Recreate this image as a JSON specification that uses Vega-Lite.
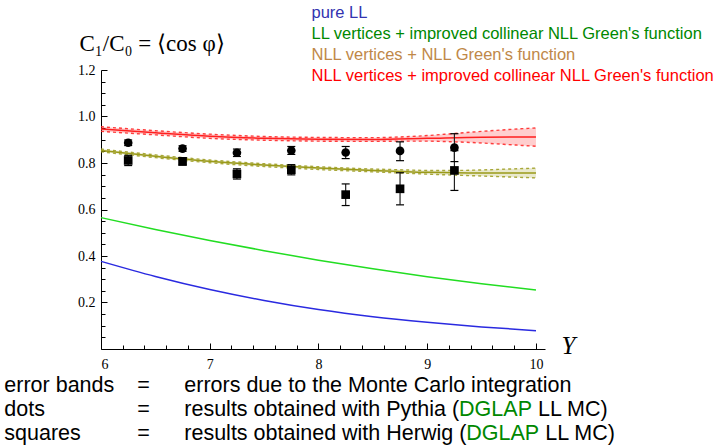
{
  "$schema": "https://vega.github.io/schema/vega-lite/v6.json",
  "width": 444,
  "height": 279,
  "autosize": "none",
  "padding": {"left": 101, "top": 70, "right": 169, "bottom": 97},
  "background": "white",
  "config": {"view": {"stroke": null}, "axis": {"grid": false}},
  "datasets": {
    "curves": [
      {"Y": 6, "value": 0.377, "series": "pure LL"},
      {"Y": 6.5, "value": 0.312, "series": "pure LL"},
      {"Y": 7, "value": 0.256, "series": "pure LL"},
      {"Y": 7.5, "value": 0.209, "series": "pure LL"},
      {"Y": 8, "value": 0.17, "series": "pure LL"},
      {"Y": 8.5, "value": 0.139, "series": "pure LL"},
      {"Y": 9, "value": 0.115, "series": "pure LL"},
      {"Y": 9.5, "value": 0.095, "series": "pure LL"},
      {"Y": 10, "value": 0.079, "series": "pure LL"},
      {"Y": 6, "value": 0.565, "series": "LL vertices + improved collinear NLL Green's function"},
      {"Y": 6.5, "value": 0.514, "series": "LL vertices + improved collinear NLL Green's function"},
      {"Y": 7, "value": 0.467, "series": "LL vertices + improved collinear NLL Green's function"},
      {"Y": 7.5, "value": 0.423, "series": "LL vertices + improved collinear NLL Green's function"},
      {"Y": 8, "value": 0.382, "series": "LL vertices + improved collinear NLL Green's function"},
      {"Y": 8.5, "value": 0.345, "series": "LL vertices + improved collinear NLL Green's function"},
      {"Y": 9, "value": 0.311, "series": "LL vertices + improved collinear NLL Green's function"},
      {"Y": 9.5, "value": 0.281, "series": "LL vertices + improved collinear NLL Green's function"},
      {"Y": 10, "value": 0.254, "series": "LL vertices + improved collinear NLL Green's function"},
      {"Y": 6, "value": 0.854, "series": "NLL vertices + NLL Green's function"},
      {"Y": 6.5, "value": 0.829, "series": "NLL vertices + NLL Green's function"},
      {"Y": 7, "value": 0.807, "series": "NLL vertices + NLL Green's function"},
      {"Y": 7.5, "value": 0.791, "series": "NLL vertices + NLL Green's function"},
      {"Y": 8, "value": 0.778, "series": "NLL vertices + NLL Green's function"},
      {"Y": 8.5, "value": 0.768, "series": "NLL vertices + NLL Green's function"},
      {"Y": 9, "value": 0.76, "series": "NLL vertices + NLL Green's function"},
      {"Y": 9.5, "value": 0.757, "series": "NLL vertices + NLL Green's function"},
      {"Y": 10, "value": 0.757, "series": "NLL vertices + NLL Green's function"},
      {"Y": 6, "value": 0.946, "series": "NLL vertices + improved collinear NLL Green's function"},
      {"Y": 6.5, "value": 0.93, "series": "NLL vertices + improved collinear NLL Green's function"},
      {"Y": 7, "value": 0.915, "series": "NLL vertices + improved collinear NLL Green's function"},
      {"Y": 7.5, "value": 0.906, "series": "NLL vertices + improved collinear NLL Green's function"},
      {"Y": 8, "value": 0.902, "series": "NLL vertices + improved collinear NLL Green's function"},
      {"Y": 8.5, "value": 0.901, "series": "NLL vertices + improved collinear NLL Green's function"},
      {"Y": 9, "value": 0.906, "series": "NLL vertices + improved collinear NLL Green's function"},
      {"Y": 9.5, "value": 0.911, "series": "NLL vertices + improved collinear NLL Green's function"},
      {"Y": 10, "value": 0.912, "series": "NLL vertices + improved collinear NLL Green's function"}
    ],
    "bands": [
      {"Y": 6, "lo": 0.848, "hi": 0.86, "series": "NLL vertices + NLL Green's function"},
      {"Y": 6.5, "lo": 0.823, "hi": 0.835, "series": "NLL vertices + NLL Green's function"},
      {"Y": 7, "lo": 0.801, "hi": 0.813, "series": "NLL vertices + NLL Green's function"},
      {"Y": 7.5, "lo": 0.785, "hi": 0.797, "series": "NLL vertices + NLL Green's function"},
      {"Y": 8, "lo": 0.772, "hi": 0.784, "series": "NLL vertices + NLL Green's function"},
      {"Y": 8.5, "lo": 0.762, "hi": 0.774, "series": "NLL vertices + NLL Green's function"},
      {"Y": 8.75, "lo": 0.757, "hi": 0.771, "series": "NLL vertices + NLL Green's function"},
      {"Y": 9, "lo": 0.752, "hi": 0.768, "series": "NLL vertices + NLL Green's function"},
      {"Y": 9.25, "lo": 0.748, "hi": 0.768, "series": "NLL vertices + NLL Green's function"},
      {"Y": 9.5, "lo": 0.744, "hi": 0.77, "series": "NLL vertices + NLL Green's function"},
      {"Y": 9.75, "lo": 0.74, "hi": 0.774, "series": "NLL vertices + NLL Green's function"},
      {"Y": 10, "lo": 0.736, "hi": 0.778, "series": "NLL vertices + NLL Green's function"},
      {"Y": 6, "lo": 0.936, "hi": 0.956, "series": "NLL vertices + improved collinear NLL Green's function"},
      {"Y": 6.5, "lo": 0.921, "hi": 0.939, "series": "NLL vertices + improved collinear NLL Green's function"},
      {"Y": 7, "lo": 0.906, "hi": 0.924, "series": "NLL vertices + improved collinear NLL Green's function"},
      {"Y": 7.5, "lo": 0.898, "hi": 0.914, "series": "NLL vertices + improved collinear NLL Green's function"},
      {"Y": 8, "lo": 0.894, "hi": 0.91, "series": "NLL vertices + improved collinear NLL Green's function"},
      {"Y": 8.5, "lo": 0.893, "hi": 0.909, "series": "NLL vertices + improved collinear NLL Green's function"},
      {"Y": 8.75, "lo": 0.894, "hi": 0.912, "series": "NLL vertices + improved collinear NLL Green's function"},
      {"Y": 9, "lo": 0.894, "hi": 0.918, "series": "NLL vertices + improved collinear NLL Green's function"},
      {"Y": 9.25, "lo": 0.891, "hi": 0.927, "series": "NLL vertices + improved collinear NLL Green's function"},
      {"Y": 9.5, "lo": 0.886, "hi": 0.936, "series": "NLL vertices + improved collinear NLL Green's function"},
      {"Y": 9.75, "lo": 0.879, "hi": 0.944, "series": "NLL vertices + improved collinear NLL Green's function"},
      {"Y": 10, "lo": 0.872, "hi": 0.951, "series": "NLL vertices + improved collinear NLL Green's function"}
    ],
    "points": [
      {"Y": 6.25, "value": 0.887, "lo": 0.875, "hi": 0.899, "generator": "Pythia"},
      {"Y": 6.75, "value": 0.862, "lo": 0.85, "hi": 0.874, "generator": "Pythia"},
      {"Y": 7.25, "value": 0.844, "lo": 0.828, "hi": 0.86, "generator": "Pythia"},
      {"Y": 7.75, "value": 0.854, "lo": 0.837, "hi": 0.871, "generator": "Pythia"},
      {"Y": 8.25, "value": 0.845, "lo": 0.819, "hi": 0.871, "generator": "Pythia"},
      {"Y": 8.75, "value": 0.852, "lo": 0.81, "hi": 0.891, "generator": "Pythia"},
      {"Y": 9.25, "value": 0.866, "lo": 0.806, "hi": 0.926, "generator": "Pythia"},
      {"Y": 6.25, "value": 0.811, "lo": 0.789, "hi": 0.833, "generator": "Herwig"},
      {"Y": 6.75, "value": 0.807, "lo": 0.791, "hi": 0.823, "generator": "Herwig"},
      {"Y": 7.25, "value": 0.753, "lo": 0.731, "hi": 0.775, "generator": "Herwig"},
      {"Y": 7.75, "value": 0.771, "lo": 0.749, "hi": 0.793, "generator": "Herwig"},
      {"Y": 8.25, "value": 0.664, "lo": 0.617, "hi": 0.71, "generator": "Herwig"},
      {"Y": 8.75, "value": 0.689, "lo": 0.62, "hi": 0.758, "generator": "Herwig"},
      {"Y": 9.25, "value": 0.768, "lo": 0.682, "hi": 0.853, "generator": "Herwig"}
    ],
    "notes": [
      {"note": "error bands", "Y": 5.111, "value": -0.184},
      {"note": "=", "Y": 6.334, "value": -0.184},
      {"note": "errors due to the Monte Carlo integration", "Y": 6.766, "value": -0.184},
      {"note": "dots", "Y": 5.111, "value": -0.289},
      {"note": "=", "Y": 6.334, "value": -0.289},
      {"note": "results obtained with Pythia (", "Y": 6.766, "value": -0.289},
      {"note": "DGLAP", "Y": 9.293, "value": -0.289},
      {"note": "LL MC)", "Y": 10.018, "value": -0.289},
      {"note": "squares", "Y": 5.111, "value": -0.393},
      {"note": "=", "Y": 6.334, "value": -0.393},
      {"note": "results obtained with Herwig (", "Y": 6.766, "value": -0.393},
      {"note": "DGLAP", "Y": 9.359, "value": -0.393},
      {"note": "LL MC)", "Y": 10.085, "value": -0.393}
    ]
  },
  "resolve": {"axis": {"x": "independent", "y": "independent"}},
  "layer": [
    {
      "data": {"name": "bands"},
      "mark": {"type": "area", "opacity": 0.22, "interpolate": "monotone"},
      "encoding": {
        "x": {"field": "Y", "type": "quantitative", "scale": {"domain": [6, 10.083], "nice": false, "zero": false},
          "axis": {"orient": "bottom", "values": [6.2, 6.4, 6.6, 6.8, 7.2, 7.4, 7.6, 7.8, 8.2, 8.4, 8.6, 8.8, 9.2, 9.4, 9.6, 9.8], "labels": false, "domain": false, "tickSize": -4, "tickColor": "black", "title": null}},
        "y": {"field": "lo", "type": "quantitative", "scale": {"domain": [0, 1.2], "nice": false, "zero": false},
          "axis": {"orient": "left", "values": [0.05, 0.1, 0.15, 0.25, 0.3, 0.35, 0.45, 0.5, 0.55, 0.65, 0.7, 0.75, 0.85, 0.9, 0.95, 1.05, 1.1, 1.15], "labels": false, "domain": false, "tickSize": -4, "tickColor": "black", "title": null}},
        "y2": {"field": "hi"},
        "color": {"field": "series", "type": "nominal"}
      }
    },
    {
      "data": {"name": "bands"},
      "transform": [{"fold": ["lo", "hi"], "as": ["edge", "bound"]}],
      "mark": {"type": "line", "strokeWidth": 1.4, "strokeDash": [3, 3], "opacity": 0.85, "interpolate": "monotone"},
      "encoding": {
        "x": {"field": "Y", "type": "quantitative", "axis": null},
        "y": {"field": "bound", "type": "quantitative", "axis": null},
        "color": {"field": "series", "type": "nominal"},
        "detail": {"field": "edge"}
      }
    },
    {
      "data": {"name": "curves"},
      "mark": {"type": "line", "strokeWidth": 1.5, "interpolate": "monotone"},
      "encoding": {
        "x": {"field": "Y", "type": "quantitative", "scale": {"domain": [6, 10.083], "nice": false, "zero": false},
          "axis": {"orient": "bottom", "values": [6, 7, 8, 9, 10], "format": "d", "tickSize": -6, "labelPadding": 14, "domainColor": "black", "tickColor": "black", "labelColor": "black", "labelFont": "Liberation Serif", "labelFontSize": 14,
            "title": "Y", "titleFont": "Liberation Serif", "titleFontStyle": "italic", "titleFontWeight": "normal", "titleFontSize": 25, "titleColor": "black", "titleX": 467, "titleY": 4, "titleAlign": "center", "titleBaseline": "alphabetic"}},
        "y": {"field": "value", "type": "quantitative", "scale": {"domain": [0, 1.2], "nice": false, "zero": false},
          "axis": {"orient": "left", "values": [0.2, 0.4, 0.6, 0.8, 1.0, 1.2], "format": ".1f", "tickSize": -6, "labelPadding": 12, "domainColor": "black", "tickColor": "black", "labelColor": "black", "labelFont": "Liberation Serif", "labelFontSize": 14,
            "title": "C₁/C₀ = ⟨cos φ⟩", "titleFont": "Liberation Serif", "titleFontWeight": "normal", "titleFontSize": 23, "titleColor": "black", "titleAngle": 0, "titleAlign": "left", "titleBaseline": "middle", "titleX": -22, "titleY": -27}},
        "color": {"field": "series", "type": "nominal",
          "scale": {"domain": ["pure LL", "LL vertices + improved collinear NLL Green's function", "NLL vertices + NLL Green's function", "NLL vertices + improved collinear NLL Green's function"],
            "range": ["#2a2ae0", "#22dd22", "#9a9a1a", "#ff1f1f"]},
          "legend": {"orient": "none", "legendX": 194, "legendY": -65, "title": null, "labelFont": "Liberation Sans", "labelFontSize": 16.5, "labelLimit": 600, "symbolSize": 1, "symbolOpacity": 0, "symbolStrokeWidth": 0, "symbolType": "circle", "labelOffset": 0, "rowPadding": 4,
            "encode": {"labels": {"update": {"fill": {"signal": "indexof(datum.value, 'pure') == 0 ? '#3333b0' : indexof(datum.value, 'LL vertices') == 0 ? '#008800' : indexof(datum.value, '+ NLL') > 0 ? '#c08848' : '#ff0000'"}}}}}
        }
      }
    },
    {
      "data": {"name": "points"},
      "mark": {"type": "rule", "color": "#222222", "strokeWidth": 1.2},
      "encoding": {
        "x": {"field": "Y", "type": "quantitative", "axis": null},
        "y": {"field": "lo", "type": "quantitative", "axis": null},
        "y2": {"field": "hi"}
      }
    },
    {
      "data": {"name": "points"},
      "transform": [{"fold": ["lo", "hi"], "as": ["edge", "bound"]}],
      "mark": {"type": "tick", "orient": "horizontal", "size": 8, "thickness": 1.2, "color": "black", "opacity": 1},
      "encoding": {
        "x": {"field": "Y", "type": "quantitative", "axis": null},
        "y": {"field": "bound", "type": "quantitative", "axis": null}
      }
    },
    {
      "data": {"name": "points"},
      "mark": {"type": "point", "filled": true, "opacity": 1, "color": "black", "size": 75},
      "encoding": {
        "x": {"field": "Y", "type": "quantitative", "axis": null},
        "y": {"field": "value", "type": "quantitative", "axis": null},
        "shape": {"field": "generator", "type": "nominal", "scale": {"domain": ["Pythia", "Herwig"], "range": ["circle", "square"]}, "legend": null}
      }
    },
    {
      "data": {"name": "notes"},
      "mark": {"type": "text", "align": "left", "baseline": "alphabetic", "font": "Liberation Sans", "fontSize": 21.5, "clip": false},
      "encoding": {
        "x": {"field": "Y", "type": "quantitative", "axis": null},
        "y": {"field": "value", "type": "quantitative", "axis": null},
        "text": {"field": "note"},
        "color": {"condition": {"test": "datum.note == 'DGLAP'", "value": "#008800"}, "value": "black"}
      }
    }
  ]
}
